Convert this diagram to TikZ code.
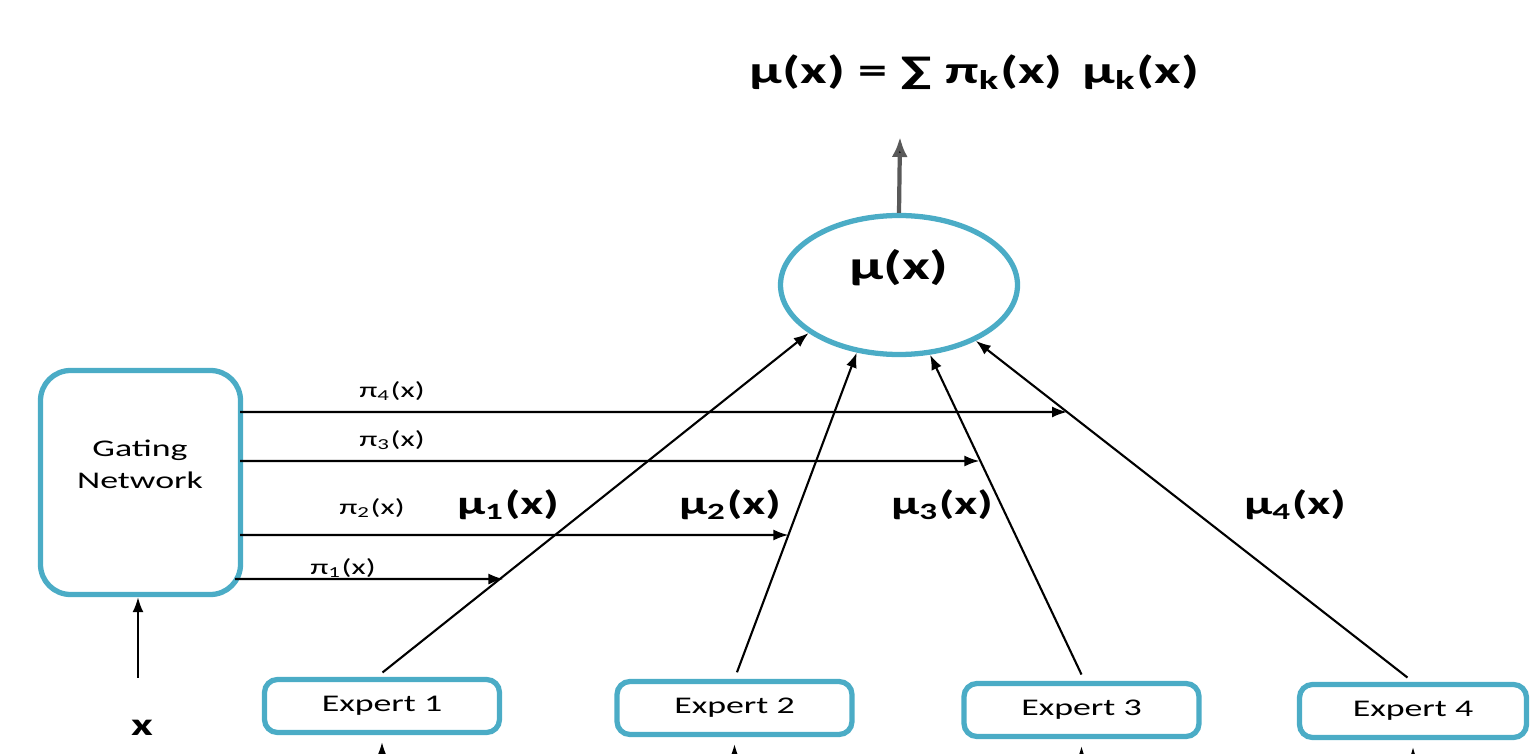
\documentclass[tikz,border=0pt]{standalone}
\usepackage{fontspec}
\setmainfont{Carlito}[FakeStretch=1.5]
\usepackage{tikz}
\usetikzlibrary{shapes.geometric,arrows.meta}
\definecolor{boxblue}{RGB}{75,172,198}
\newcommand{\sbs}[1]{\textsubscript{#1}}

\begin{document}
\begin{tikzpicture}[>={Latex[length=1.5mm,width=1.1mm]},
    box/.style={draw=boxblue, line width=1.5pt, rounded corners=2.5mm},
    expbox/.style={box, rounded corners=1.3mm, minimum width=2.35cm, minimum height=0.53cm, font=\fontsize{6.8}{8}\selectfont},
    pilab/.style={font=\fontsize{6.2}{7}\selectfont},
    mulab/.style={font=\bfseries\fontsize{9.5}{11}\selectfont},
    link/.style={->, line width=0.6pt}]
    \useasboundingbox (0,0) rectangle (15.33,-7.54);
    % gating network and experts
    \node[box, minimum width=2.0cm, minimum height=2.24cm, rounded corners=3mm] (gate) at (1.405,-4.825) {};
    \node[align=center, font=\fontsize{6.8}{9.1}\selectfont] (gatetext) at (1.40,-4.64) {Gating\\Network};
    \node[expbox] (e1) at (3.82,-7.06) {Expert 1};
    \node[expbox] (e2) at (7.345,-7.08) {Expert 2};
    \node[expbox] (e3) at (10.815,-7.10) {Expert 3};
    \node[expbox, minimum width=2.27cm] (e4) at (14.13,-7.11) {Expert 4};
    % mixture
    \node[draw=boxblue, line width=1.5pt, ellipse, minimum width=2.37cm, minimum height=1.39cm] (mu) at (8.99,-2.85) {};
    \node[mulab, font=\bfseries\fontsize{11.5}{13}\selectfont] (mutext) at (8.99,-2.68) {μ(x)};
    \node[mulab, font=\bfseries\fontsize{11}{13}\selectfont] (sum) at (9.745,-0.72) {μ(x) = ∑ π\sbs{k}(x)\, μ\sbs{k}(x)};
    \coordinate (top) at (9.0,-1.37);
    \draw[-{Latex[length=2mm,width=1.6mm,fill=black]}, line width=1.2pt, draw=black!65] (mu.north) -- (top);
    % input
    \node[mulab, font=\bfseries\fontsize{9}{11}\selectfont] (xin) at (1.42,-7.28) {x};
    \draw[link] (xin.north) ++(-0.04,0.3) -- (gate.south -| 1.38,0);
    % experts to mixture
    \draw[link, shorten <=2pt] ([xshift=-0.05cm]e1.north) -- (mu.208);
    \draw[link, shorten <=2pt] (e2.north) -- (mu.238);
    \draw[link, shorten <=2pt] ([xshift=0.03cm]e3.north) -- (mu.294);
    \draw[link, shorten <=2pt] (e4.north) -- (mu.324);
    % gating weights
    \coordinate (g4) at (2.40,-4.12);  \coordinate (h4) at (12,-4.12);
    \coordinate (g3) at (2.40,-4.61);  \coordinate (h3) at (12,-4.61);
    \coordinate (g2) at (2.40,-5.35);  \coordinate (h2) at (12,-5.35);
    \coordinate (g1) at (2.35,-5.79);  \coordinate (h1) at (12,-5.79);
    \draw[link] (g4) -- (intersection of g4--h4 and e4.north--mu.324);
    \draw[link] (g3) -- (intersection of g3--h3 and e3.north--mu.294);
    \draw[link] (g2) -- (intersection of g2--h2 and e2.north--mu.238);
    \draw[link] (g1) -- (intersection of g1--h1 and e1.north--mu.208);
    \node[pilab] (p4) at (3.92,-3.91) {π\sbs{4}(x)};
    \node[pilab] (p3) at (3.92,-4.40) {π\sbs{3}(x)};
    \node[pilab] (p2) at (3.72,-5.08) {π\sbs{2}(x)};
    \node[pilab] (p1) at (3.43,-5.68) {π\sbs{1}(x)};
    \node[mulab] (m1) at (5.08,-5.05) {μ\sbs{1}(x)};
    \node[mulab] (m2) at (7.30,-5.05) {μ\sbs{2}(x)};
    \node[mulab] (m3) at (9.42,-5.05) {μ\sbs{3}(x)};
    \node[mulab] (m4) at (12.95,-5.05) {μ\sbs{4}(x)};
    % inputs below the experts
    \foreach \e in {e1,e2,e3,e4}
        \draw[link, shorten >=2pt] (\e.south) ++(0,-0.5) -- (\e.south);
\end{tikzpicture}
\end{document}
